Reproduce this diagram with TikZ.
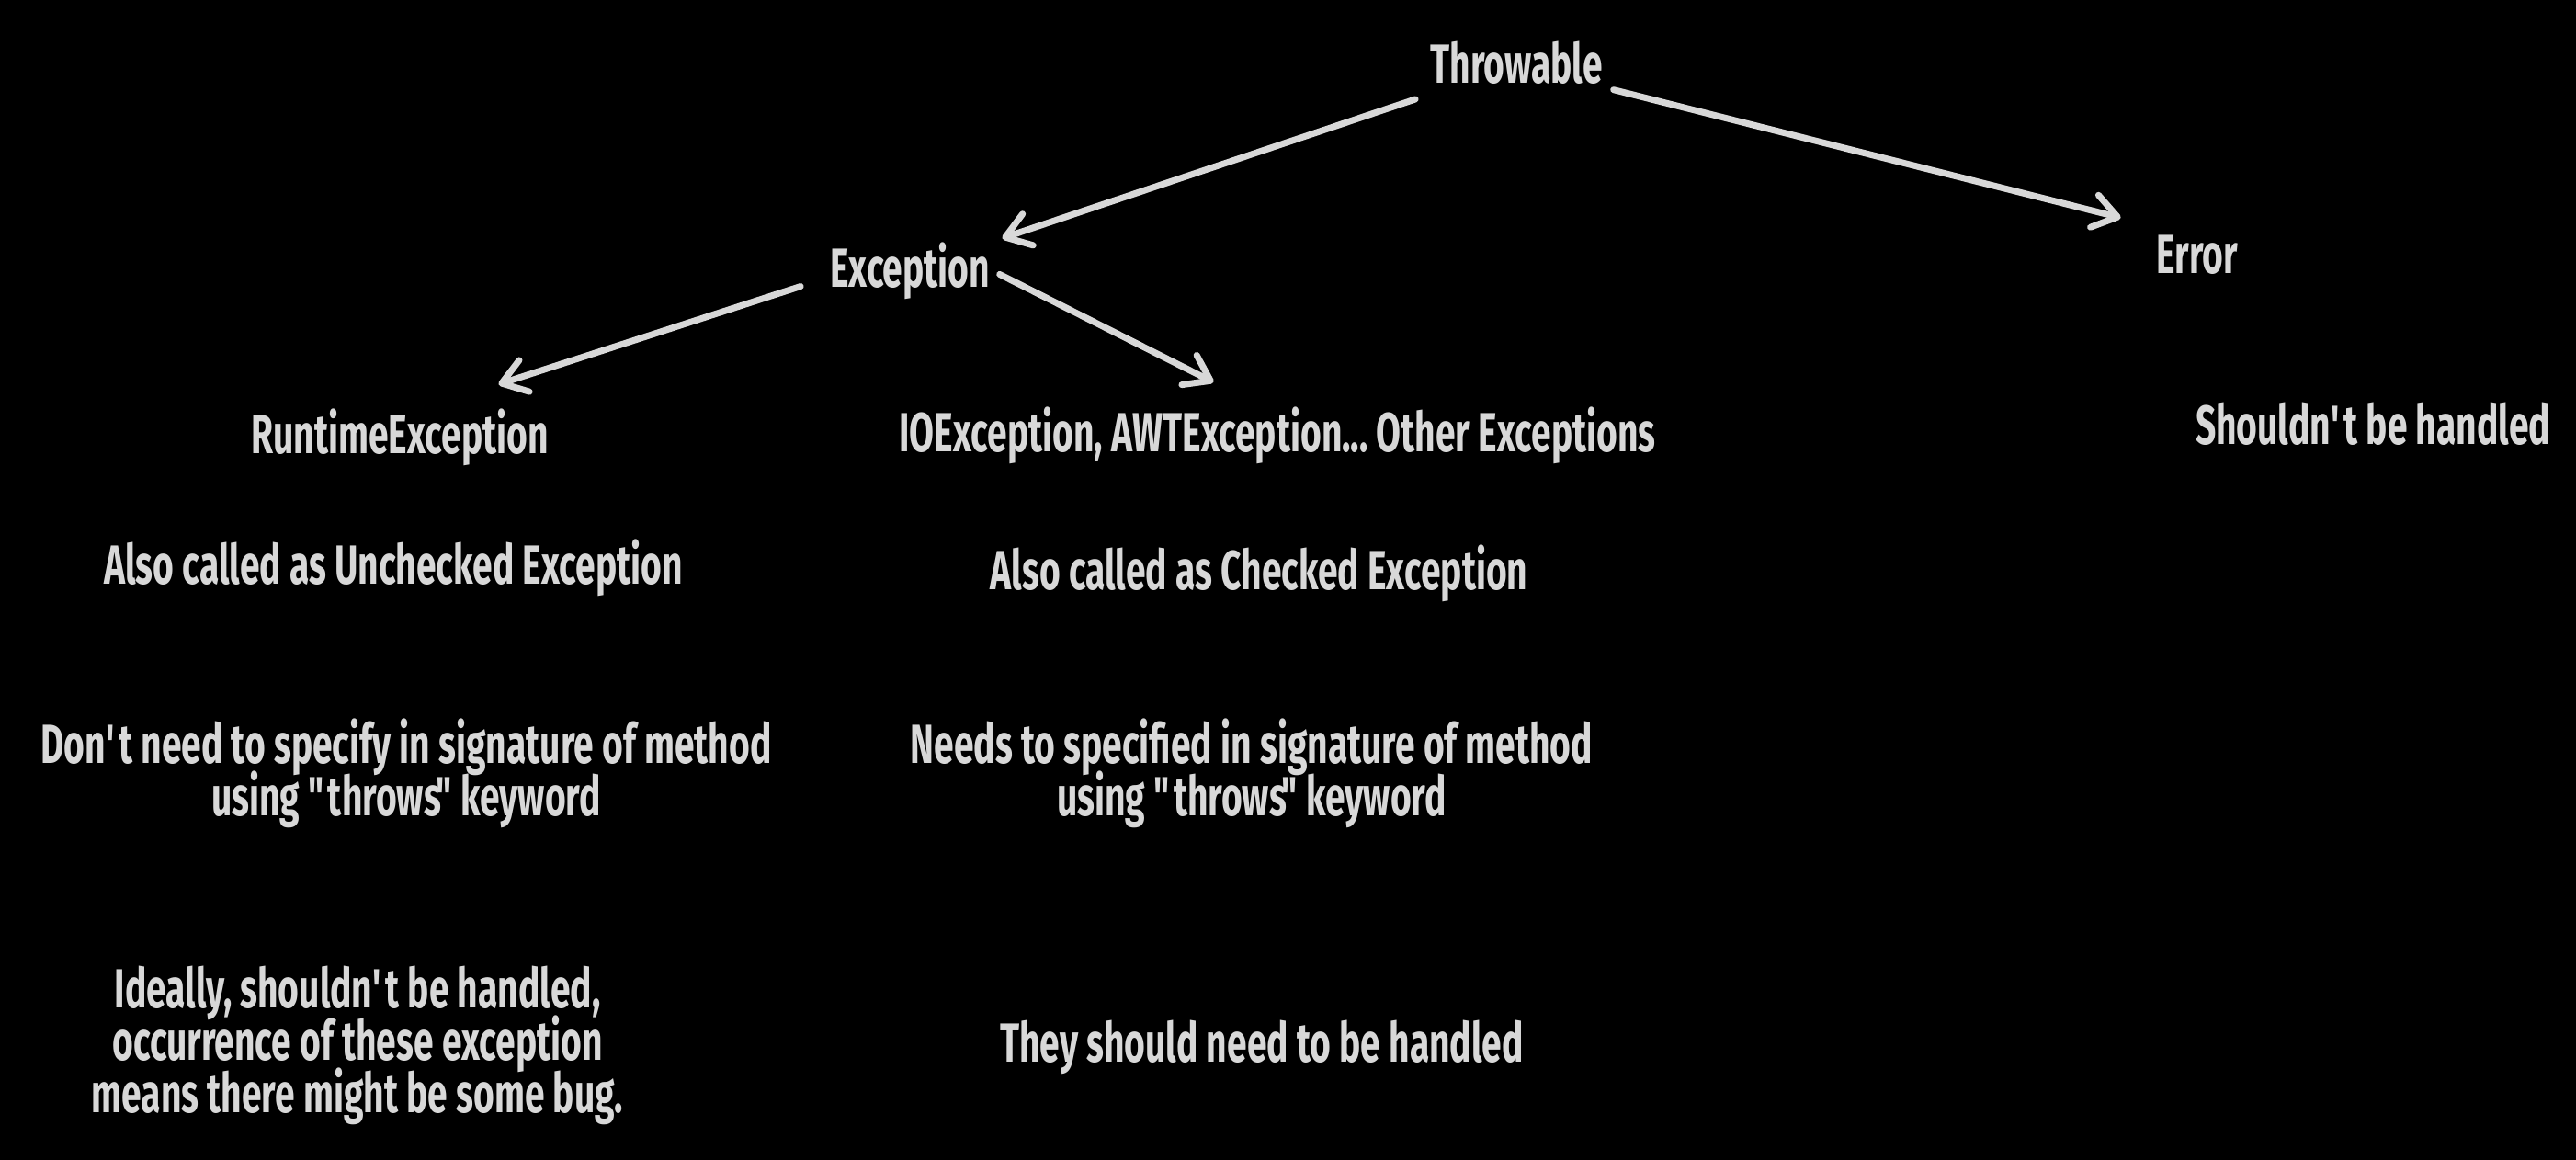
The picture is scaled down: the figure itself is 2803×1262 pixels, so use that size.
\documentclass[tikz,border=0pt]{standalone}
\usepackage{fontspec}
\setmainfont{Fira Sans}[FakeStretch=0.65]
\usetikzlibrary{arrows.meta}
\definecolor{ink}{HTML}{D8D8D8}
\newcommand{\diagfont}{\fontsize{30}{28.5}\selectfont\bfseries\frenchspacing\setlength{\lineskiplimit}{-20pt}}
\newcommand{\oq}{\textquotedbl\kern-2.5pt}
\newcommand{\cq}{\kern-2.5pt\textquotedbl\kern-4.5pt}
\newcommand{\sq}{\textquotesingle}
\begin{document}
\begin{tikzpicture}[x=0.5pt,y=-0.5pt,
  txt/.style={text=ink, inner sep=0pt, outer sep=0pt, font=\diagfont},
  one/.style={txt, text height=20pt, text depth=0pt, anchor=center},
  multi/.style={txt, align=center, anchor=base},
  arr/.style={draw=ink, line width=3.5pt, line cap=round, line join=round,
    -{Straight Barb[length=13pt,width=18pt,line cap=round,line join=round]}}]
\useasboundingbox[fill=black] (0,0) rectangle (2803,1262);

\node[one] (thr) at (1650,71) {Throwable};
\node[one] (exc) at (990,293) {Exception};
\node[one] (err) at (2391,278) {Error};
\node[one] (rt) at (435,473) {RuntimeException};
\node[one] (io) at (1390,471) {IOException, AWTException... Other Exceptions};
\node[one] (shb) at (2582,463) {Shouldn\sq t be handled};
\node[one] (auc) at (428,615) {Also called as Unchecked Exception};
\node[one] (ac) at (1370,621) {Also called as Checked Exception};
\node[multi] (dnt) at (442,887) {Don\sq t need to specify in signature of method\\using \oq throws\cq\ keyword};
\node[multi] (nts) at (1362,887) {Needs to specified in signature of method\\using \oq throws\cq\ keyword};
\node[multi] (idl) at (389,1210) {Ideally, shouldn\sq t be handled,\\occurrence of these exception\\means there might be some bug.};
\node[one] (they) at (1373,1135) {They should need to be handled};

\draw[arr, shorten <=58pt, shorten >=53pt] (thr.center) -- (exc.center);
\draw[arr, shorten <=54.5pt, shorten >=43pt] (thr.center) -- (err.north);
\draw[arr, shorten <=62.5pt, shorten >=56.5pt] (exc.north) -- (rt.north);
\draw[arr, shorten <=6pt, shorten >=39pt] (exc.east) -- (io.north);
\end{tikzpicture}
\end{document}
